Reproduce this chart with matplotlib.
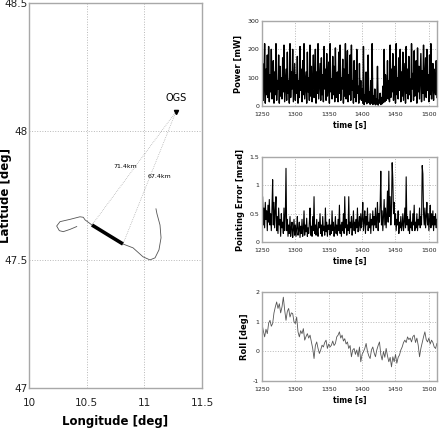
import matplotlib
matplotlib.use("Agg")
import matplotlib.pyplot as plt
import numpy as np

# ---------------- data ----------------
traj_lon = [10.414, 10.356, 10.297, 10.263, 10.240, 10.269, 10.356, 10.442, 10.471,
            10.486, 10.546, 10.68, 10.815, 10.902, 10.989, 11.049, 11.093, 11.127,
            11.145, 11.136, 11.110, 11.101]
traj_lat = [47.629, 47.618, 47.609, 47.613, 47.631, 47.648, 47.657, 47.667, 47.665,
            47.655, 47.635, 47.598, 47.561, 47.546, 47.511, 47.499, 47.507, 47.538,
            47.585, 47.635, 47.678, 47.698]
link_lon = [10.546, 10.68, 10.815]
link_lat = [47.635, 47.598, 47.561]
ogs_lon, ogs_lat = 11.275, 48.077
dist_labels = ["71.4km", "67.4km"]
dist_lon = [10.833, 11.128]
dist_lat = [47.861, 47.822]

time_start = 1250
power = [60, 150, 20, 90, 220, 10, 130, 40, 180, 30,
         210, 15, 110, 50, 200, 25, 80, 160, 10, 120,
         40, 220, 20, 90, 60, 180, 10, 140, 35, 100,
         25, 170, 50, 215, 15, 70, 130, 20, 190, 45,
         90, 10, 220, 30, 120, 60, 200, 15, 80, 150,
         20, 110, 45, 175, 10, 90, 30, 210, 55, 130,
         15, 160, 40, 220, 25, 70, 120, 10, 190, 50,
         100, 20, 215, 35, 140, 15, 80, 180, 30, 60,
         200, 10, 120, 45, 220, 25, 90, 150, 20, 170,
         40, 110, 15, 210, 60, 130, 20, 185, 35, 75,
         155, 10, 220, 50, 95, 25, 175, 40, 140, 15,
         205, 30, 85, 120, 15, 190, 45, 215, 20, 100,
         60, 165, 10, 130, 35, 220, 25, 80, 195, 15,
         110, 40, 180, 20, 215, 55, 90, 10, 160, 30,
         125, 15, 200, 45, 70, 10, 150, 25, 90, 20,
         60, 10, 210, 5, 40, 15, 120, 8, 30, 180,
         12, 50, 6, 90, 10, 220, 5, 35, 8, 60,
         4, 25, 7, 140, 3, 20, 10, 45, 5, 30,
         8, 70, 12, 200, 15, 110, 20, 40, 160, 25,
         90, 15, 215, 30, 130, 50, 185, 20, 75, 140,
         10, 220, 40, 100, 25, 170, 55, 200, 15, 120,
         35, 190, 20, 85, 150, 10, 210, 45, 130, 25,
         175, 40, 95, 15, 220, 60, 115, 20, 195, 35,
         80, 160, 10, 205, 50, 140, 25, 100, 185, 15,
         125, 45, 215, 20, 90, 170, 30, 200, 55, 110,
         15, 180, 40, 220, 25, 95, 150, 20, 130, 60,
         40, 160, 30]
pointing = [0.45, 0.8, 0.3, 0.6, 0.25, 0.7, 0.4, 0.55, 0.2, 0.65,
            0.35, 0.75, 0.3, 0.5, 0.2, 0.6, 1.1, 0.3, 0.7, 0.25,
            0.55, 0.8, 0.2, 0.45, 0.15, 0.6, 0.3, 0.4, 0.1, 0.5,
            0.25, 0.35, 0.15, 0.6, 0.2, 0.45, 1.3, 0.2, 0.4, 0.1,
            0.3, 0.15, 0.45, 0.1, 0.25, 0.35, 0.08, 0.2, 0.4, 0.12,
            0.3, 0.1, 0.25, 0.45, 0.12, 0.2, 0.35, 0.08, 0.28, 0.15,
            0.4, 0.1, 0.22, 0.55, 0.12, 0.3, 0.18, 0.42, 0.1, 0.25,
            0.15, 0.35, 0.6, 0.12, 0.28, 0.1, 0.45, 0.2, 0.8, 0.15,
            0.3, 0.12, 0.4, 0.2, 0.1, 0.35, 0.25, 0.5, 0.15, 0.3,
            0.1, 0.45, 0.2, 0.28, 0.12, 0.6, 0.18, 0.35, 0.1, 0.3,
            0.22, 0.4, 0.12, 0.3, 0.15, 0.55, 0.2, 0.35, 0.1, 0.25,
            0.45, 0.15, 0.3, 0.12, 0.4, 0.2, 0.65, 0.15, 0.3, 0.1,
            0.35, 0.2, 0.5, 0.15, 0.8, 0.25, 0.4, 0.12, 0.3, 0.2,
            0.8, 0.15, 0.35, 0.25, 0.45, 0.12, 0.3, 0.55, 0.2, 0.35,
            0.15, 0.4, 0.25, 0.6, 0.18, 0.3, 0.45, 0.2, 0.5, 0.25,
            0.4, 0.7, 0.2, 0.35, 0.55, 0.15, 0.45, 0.3, 0.6, 0.2,
            0.35, 0.25, 0.5, 0.15, 0.4, 0.3, 0.55, 0.2, 0.45, 0.3,
            0.6, 0.25, 0.4, 0.7, 0.2, 0.5, 0.35, 0.65, 1.25, 0.3,
            0.55, 0.2, 0.45, 0.75, 0.3, 0.6, 0.25, 0.5, 0.9, 0.35,
            1.25, 0.45, 0.8, 0.3, 0.6, 1.4, 1.1, 0.5, 0.7, 0.3,
            0.5, 0.2, 0.4, 0.3, 0.55, 0.15, 0.35, 0.25, 0.45, 0.2,
            0.3, 0.5, 0.2, 0.35, 0.6, 0.25, 1.15, 0.3, 0.45, 0.2,
            0.4, 0.15, 0.55, 0.25, 0.35, 0.2, 0.5, 0.3, 0.65, 0.2,
            0.35, 0.25, 0.5, 0.2, 0.4, 0.3, 0.6, 0.25, 0.45, 0.3,
            1.35, 1.2, 0.5, 0.3, 0.6, 0.25, 0.45, 0.7, 0.3, 0.5,
            0.2, 0.4, 0.65, 0.25, 0.5, 0.3, 0.55, 0.2, 0.45, 0.3,
            0.5, 0.25, 0.4]
roll_step = 2
roll = [0.94, 0.7, 0.49, 0.75, 0.6, 0.95, 1.05, 0.85, 0.94, 1.3,
        1.5, 1.67, 1.45, 1.61, 1.3, 1.5, 1.83, 1.4, 1.05, 1.35,
        1.45, 1.16, 1.3, 1.28, 1.0, 0.94, 1.16, 0.66, 0.49, 0.7,
        0.6, 0.77, 0.38, 0.5, 0.6, 0.45, 0.55, 0.32, 0.1, -0.24,
        0.2, 0.32, 0.1, -0.07, 0.05, 0.21, 0.15, 0.3, 0.38, 0.1,
        0.25, 0.15, 0.21, 0.35, 0.2, 0.27, 0.49, 0.55, 0.66, 0.45,
        0.55, 0.35, 0.43, 0.25, 0.32, 0.1, 0.2, -0.18, 0.05, 0.1,
        -0.1, 0.05, -0.18, 0.15, -0.35, -0.1, -0.01, 0.1, 0.27, 0.0,
        -0.15, -0.24, 0.05, 0.15, -0.05, -0.18, 0.05, 0.2, 0.32, -0.1,
        -0.29, 0.0, -0.2, 0.1, -0.15, -0.35, -0.2, -0.52, -0.18, -0.35,
        -0.1, -0.4, -0.2, -0.12, 0.05, 0.15, 0.3, 0.38, 0.3, 0.49,
        0.4, 0.45, 0.32, 0.5, 0.55, 0.3, 0.45, 0.21, -0.18, 0.1,
        0.3, 0.49, 0.66, 0.4, 0.32, 0.45, 0.25, 0.38, 0.3, 0.15,
        0.1, 0.27]

lon_ticks = [10, 10.5, 11, 11.5]
lat_ticks = [47, 47.5, 48, 48.5]
time_ticks = [1250, 1300, 1350, 1400, 1450, 1500]
power_ticks = [0, 100, 200, 300]
pointing_ticks = [0, 0.5, 1, 1.5]
roll_ticks = [-1, 0, 1, 2]

# ---------------- style ----------------
plt.rcParams['font.family'] = ['DejaVu Sans']
FRAME = '#a8a8a8'
GRID = '#b8b8b8'

fig = plt.figure(figsize=(4.44, 4.38), dpi=100)


def style(ax, tick_fs, xpad=2, ypad=2):
    for s in ax.spines.values():
        s.set_color(FRAME)
        s.set_linewidth(1.0)
    ax.tick_params(length=0, labelsize=tick_fs, colors='#222222')
    ax.tick_params(axis='x', pad=xpad)
    ax.tick_params(axis='y', pad=ypad)
    ax.grid(True, linestyle=':', color=GRID, linewidth=0.7)
    ax.set_axisbelow(True)


# main map
ax = fig.add_axes([0.0653, 0.1142, 0.3896, 0.879])
ax.plot(traj_lon, traj_lat, color='#555555', lw=0.6)
ax.plot(link_lon, link_lat, color='black', lw=2.6, solid_capstyle='butt')
ax.plot([ogs_lon, link_lon[0]], [ogs_lat, link_lat[0]], color='#9a9a9a', lw=0.5, ls=':')
ax.plot([ogs_lon, link_lon[-1]], [ogs_lat, link_lat[-1]], color='#9a9a9a', lw=0.5, ls=':')
ax.plot([ogs_lon], [ogs_lat], marker='v', color='black', ms=3)
ax.text(ogs_lon, ogs_lat + 0.035, 'OGS', ha='center', va='bottom', fontsize=7)
for lab, x, y in zip(dist_labels, dist_lon, dist_lat):
    ax.text(x, y, lab, ha='center', va='center', fontsize=4.5)
ax.set_xlim(10, 11.5)
ax.set_ylim(47, 48.5)
ax.set_xticks(lon_ticks)
ax.set_xticklabels(['10', '10.5', '11', '11.5'])
ax.set_yticks(lat_ticks)
ax.set_yticklabels(['47', '47.5', '48', '48.5'])
style(ax, 7.5, xpad=7, ypad=1)
ax.set_xlabel('Longitude [deg]', fontsize=8.5, fontweight='bold', labelpad=5)
ax.set_ylabel('Latitude [deg]', fontsize=8.5, fontweight='bold')
ax.yaxis.set_label_coords(-0.097, 0.5)

t_fast = np.arange(len(power)) + time_start
t_point = np.arange(len(pointing)) + time_start
t_roll = np.arange(len(roll)) * roll_step + time_start


def small(ax, yl, ylim, yticks):
    ax.set_xlim(1250, 1512)
    ax.set_ylim(*ylim)
    ax.set_xticks(time_ticks)
    ax.set_yticks(yticks)
    ax.set_yticklabels([('%g' % v) for v in yticks])
    style(ax, 4.5, xpad=4, ypad=2)
    ax.set_xlabel('time [s]', fontsize=5.5, fontweight='bold', labelpad=3)
    ax.set_ylabel(yl, fontsize=6, fontweight='bold', labelpad=3)


ax1 = fig.add_axes([0.590, 0.758, 0.394, 0.194])
ax1.plot(t_fast, power, color='black', lw=1.0)
small(ax1, 'Power [mW]', (0, 300), power_ticks)

ax2 = fig.add_axes([0.590, 0.4475, 0.394, 0.194])
ax2.plot(t_point, pointing, color='black', lw=0.8)
small(ax2, 'Pointing Error [mrad]', (0, 1.5), pointing_ticks)

ax3 = fig.add_axes([0.590, 0.130, 0.394, 0.203])
ax3.plot(t_roll, roll, color='#555555', lw=0.6)
small(ax3, 'Roll [deg]', (-1, 2), roll_ticks)

fig.savefig('out.png', dpi=100)
